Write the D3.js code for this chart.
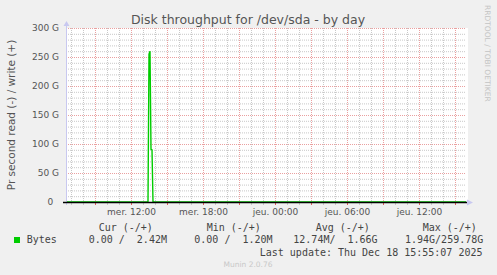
<!DOCTYPE html>
<html>
<head>
<meta charset="utf-8">
<script src="https://cdn.jsdelivr.net/npm/d3@7/dist/d3.min.js"></script>
<style>
body { margin: 0; background: #f0f0f0; }
svg { display: block; }
.tick text { font-family: "DejaVu Sans", sans-serif; font-size: 9px; fill: #555; }
.mono { font-family: "DejaVu Sans Mono", monospace; font-size: 10px; fill: #444; white-space: pre; }
</style>
</head>
<body>
<script>
const parseTime = d3.timeParse('%Y-%m-%d %H:%M');

// chart data (write, in G bytes / s)
const timeRange = ['2025-12-17 06:35', '2025-12-18 15:55'];
const writeTimes = ['2025-12-17 06:35', '2025-12-17 13:25', '2025-12-17 13:30', '2025-12-17 13:35',
    '2025-12-17 13:40', '2025-12-17 13:45', '2025-12-17 13:50', '2025-12-18 15:55'];
const writeValues = [0.0024, 0.0012, 255, 259.78, 91, 90, 0.0012, 0.0024];

const xTickTimes = ['2025-12-17 12:00', '2025-12-17 18:00', '2025-12-18 00:00', '2025-12-18 06:00', '2025-12-18 12:00'];
const xTickLabels = ['mer. 12:00', 'mer. 18:00', 'jeu. 00:00', 'jeu. 06:00', 'jeu. 12:00'];
const yTicks = [0, 50, 100, 150, 200, 250, 300];
const yTickLabels = ['0\u00a0\u00a0', '50 G', '100 G', '150 G', '200 G', '250 G', '300 G'];

const legendName = 'Bytes';
const legendHeaders = ['Cur (-/+)', 'Min (-/+)', 'Avg (-/+)', 'Max (-/+)'];
const legendValues = ['0.00 /  2.42M', '0.00 /  1.20M', '12.74M/  1.66G', '1.94G/259.78G'];
const lastUpdate = 'Last update: Thu Dec 18 15:55:07 2025';

const WIDTH = 497;
const HEIGHT = 275;
const LEFT = 66, RIGHT = 466, TOP = 28, BOTTOM = 202;

const svg = d3.select('body').append('svg')
    .attr('width', WIDTH)
    .attr('height', HEIGHT);

const xScale = d3.scaleTime()
    .domain(timeRange.map(parseTime))
    .range([LEFT, RIGHT]);

const yScale = d3.scaleLinear()
    .domain([0, 300])
    .range([BOTTOM, TOP]);

// canvas
svg.append('rect')
    .attr('x', LEFT).attr('y', TOP)
    .attr('width', RIGHT - LEFT + 2).attr('height', BOTTOM - TOP)
    .attr('fill', '#fff');

// grid
const minorY = d3.range(0, 301, 10).filter(v => v % 50 !== 0);
const gridYMinor = svg.append('g')
    .attr('transform', `translate(${LEFT}, 0)`)
    .call(d3.axisLeft(yScale).tickValues(minorY).tickSize(-(RIGHT - LEFT)).tickFormat(''));
const gridYMajor = svg.append('g')
    .attr('transform', `translate(${LEFT}, 0)`)
    .call(d3.axisLeft(yScale).tickValues(yTicks).tickSize(-(RIGHT - LEFT)).tickFormat(''));

const hours = d3.timeHour.range(xScale.domain()[0], xScale.domain()[1]);
const minorX = hours.filter(h => h.getHours() % 3 !== 0);
const majorX = hours.filter(h => h.getHours() % 3 === 0);

const gridXMinor = svg.append('g')
    .attr('transform', `translate(0, ${BOTTOM + 3})`)
    .call(d3.axisBottom(xScale).tickValues(minorX).tickSizeInner(-(BOTTOM - TOP + 3)).tickSizeOuter(0).tickFormat(''));
const gridXMajor = svg.append('g')
    .attr('transform', `translate(0, ${BOTTOM + 3})`)
    .call(d3.axisBottom(xScale).tickValues(majorX).tickSizeInner(-(BOTTOM - TOP + 3)).tickSizeOuter(0).tickFormat(''));

[gridYMinor, gridXMinor].forEach(g => {
    g.select('.domain').remove();
    g.selectAll('line').attr('stroke', '#c8c8c8').attr('stroke-dasharray', '1,1');
});
[gridYMajor, gridXMajor].forEach(g => {
    g.select('.domain').remove();
    g.selectAll('line').attr('stroke', '#eaa0a0').attr('stroke-dasharray', '1,1');
});
// solid tick stubs below the axis
gridXMinor.selectAll('.tick').append('line').attr('y2', -3).attr('stroke', '#c8c8c8');
gridXMajor.selectAll('.tick').append('line').attr('y2', -3).attr('stroke', '#e06060');

// data line
const points = writeTimes.map((t, i) => [parseTime(t), writeValues[i]]);
svg.append('path')
    .datum(points)
    .attr('fill', 'none')
    .attr('stroke', '#00cc00')
    .attr('stroke-width', 1.4)
    .attr('d', d3.line().x(d => xScale(d[0])).y(d => yScale(d[1])));

// axes lines
svg.append('line')
    .attr('x1', LEFT + 0.5).attr('x2', LEFT + 0.5)
    .attr('y1', BOTTOM + 3).attr('y2', TOP - 5)
    .attr('stroke', '#c8c8f0');
svg.append('path')
    .attr('d', `M${LEFT - 2.5},${TOP - 2} L${LEFT + 0.5},${TOP - 7} L${LEFT + 3.5},${TOP - 2} Z`)
    .attr('fill', '#c8c8f0');
svg.append('line')
    .attr('x1', LEFT - 3).attr('x2', RIGHT + 1)
    .attr('y1', BOTTOM + 0.5).attr('y2', BOTTOM + 0.5)
    .attr('stroke', '#000').attr('stroke-width', 1.4);
svg.append('path')
    .attr('d', `M${RIGHT + 1},${BOTTOM - 2.5} L${RIGHT + 7},${BOTTOM + 0.5} L${RIGHT + 1},${BOTTOM + 3.5} Z`)
    .attr('fill', '#c8c8f0');

// tick labels
const yAxis = svg.append('g')
    .attr('transform', `translate(${LEFT - 1}, 0)`)
    .call(d3.axisLeft(yScale).tickValues(yTicks).tickSize(0).tickPadding(6)
        .tickFormat((d, i) => yTickLabels[i]));
yAxis.select('.domain').remove();
yAxis.selectAll('text').style('white-space', 'pre');

const xAxis = svg.append('g')
    .attr('transform', `translate(0, ${BOTTOM})`)
    .call(d3.axisBottom(xScale).tickValues(xTickTimes.map(parseTime)).tickSize(0).tickPadding(7)
        .tickFormat((d, i) => xTickLabels[i]));
xAxis.select('.domain').remove();

// titles
svg.append('text')
    .attr('x', 248).attr('y', 23.5)
    .attr('text-anchor', 'middle')
    .style('font-family', '"DejaVu Sans", sans-serif')
    .style('font-size', '12.5px')
    .attr('fill', '#555')
    .text('Disk throughput for /dev/sda - by day');

svg.append('text')
    .attr('transform', `translate(15, ${(TOP + BOTTOM) / 2}) rotate(-90)`)
    .attr('text-anchor', 'middle')
    .style('font-family', '"DejaVu Sans", sans-serif')
    .style('font-size', '10.5px')
    .attr('fill', '#555')
    .text('Pr second read (-) / write (+)');

svg.append('text')
    .attr('transform', 'translate(485, 5) rotate(90)')
    .style('font-family', '"DejaVu Sans", sans-serif')
    .style('font-size', '7.5px')
    .attr('fill', '#c4c4c4')
    .text('RRDTOOL / TOBI OETIKER');

// legend
const headerX = [98.7, 206.7, 315.7, 422.7];
const valueX = [88.7, 194.3, 293.3, 405];
svg.selectAll('.hdr').data(legendHeaders).enter().append('text')
    .attr('class', 'mono hdr')
    .attr('x', (d, i) => headerX[i]).attr('y', 230.5)
    .text(d => d);
svg.append('rect')
    .attr('x', 14).attr('y', 237).attr('width', 6).attr('height', 6)
    .attr('fill', '#00cc00');
svg.append('text')
    .attr('class', 'mono')
    .attr('x', 26.7).attr('y', 243)
    .text(legendName);
svg.selectAll('.val').data(legendValues).enter().append('text')
    .attr('class', 'mono val')
    .attr('x', (d, i) => valueX[i]).attr('y', 243)
    .text(d => d);
svg.append('text')
    .attr('class', 'mono')
    .attr('x', 482.5).attr('y', 255.5)
    .attr('text-anchor', 'end')
    .text(lastUpdate);

svg.append('text')
    .attr('x', 248).attr('y', 267)
    .attr('text-anchor', 'middle')
    .style('font-family', '"DejaVu Sans", sans-serif')
    .style('font-size', '7.5px')
    .attr('fill', '#c8c8c8')
    .text('Munin 2.0.76');
</script>
</body>
</html>
